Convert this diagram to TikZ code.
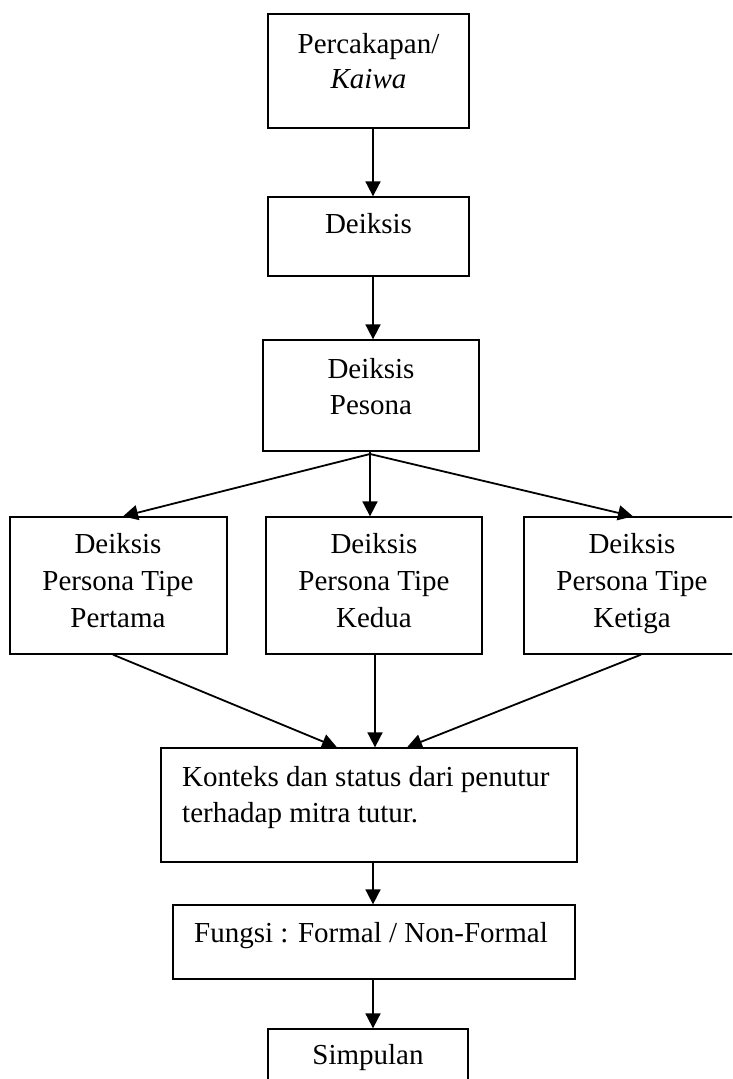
\documentclass[tikz,border=0pt]{standalone}
\usepackage{fontspec}
\setmainfont{Liberation Serif}
\usetikzlibrary{arrows.meta}
\begin{document}
\begin{tikzpicture}[x=1pt,y=-1pt,
  box/.style={draw,line width=1.3pt,inner sep=0pt,rectangle},
  txt/.style={anchor=base,inner sep=0pt,font=\fontsize{29}{36}\selectfont},
  arr/.style={line width=1.8pt,-{Triangle[length=15pt,width=15pt]}},
  ln/.style={line width=1.8pt}]
\useasboundingbox (0,0) rectangle (732,1079);
\fill[white] (0,0) rectangle (732,1079);
\clip (0,0) rectangle (732,1079);
% boxes
\node[box,minimum width=201pt,minimum height=114pt] (b1) at (368.5,71) {};
\node[box,minimum width=201pt,minimum height=79pt] (b2) at (368.5,236.5) {};
\node[box,minimum width=216pt,minimum height=111pt] (b3) at (371,395.5) {};
\node[box,minimum width=217pt,minimum height=137pt] (bl) at (118.5,585.5) {};
\node[box,minimum width=216pt,minimum height=137pt] (bm) at (374,585.5) {};
\node[box,minimum width=217pt,minimum height=137pt] (br) at (632.5,585.5) {};
\node[box,minimum width=416pt,minimum height=114pt] (bk) at (369,805) {};
\node[box,minimum width=402pt,minimum height=74pt] (bf) at (374,942) {};
\node[box,minimum width=200pt,minimum height=72pt] (bs) at (368,1065) {};
% texts
\node[txt] (t1a) at (368.5,53) {Percakapan/};
\node[txt] (t1b) at (368.5,88) {\itshape Kaiwa};
\node[txt] (t2) at (368.5,233) {Deiksis};
\node[txt] (t3a) at (371,378) {Deiksis};
\node[txt] (t3b) at (371,414) {Pesona};
\node[txt] (tla) at (118,553) {Deiksis};
\node[txt] (tlb) at (118,590) {Persona Tipe};
\node[txt] (tlc) at (118,627) {Pertama};
\node[txt] (tma) at (374,553) {Deiksis};
\node[txt] (tmb) at (374,590) {Persona Tipe};
\node[txt] (tmc) at (374,627) {Kedua};
\node[txt] (tra) at (632,553) {Deiksis};
\node[txt] (trb) at (632,590) {Persona Tipe};
\node[txt] (trc) at (632,627) {Ketiga};
\node[txt,anchor=base west] (tka) at (182,786) {Konteks dan status dari penutur};
\node[txt,anchor=base west] (tkb) at (182,822) {terhadap mitra tutur.};
\node[txt] (tf) at (371,942) {Fungsi : Formal / Non-Formal};
\node[txt] (ts) at (368,1064) {Simpulan};
% connector coordinates
\coordinate (cx) at (373,0);
\coordinate (split) at (370,454);
\coordinate (lin) at (123,0);
\coordinate (rin) at (633,0);
\coordinate (lout) at (113,0);
\coordinate (rout) at (641,0);
\coordinate (kl) at (337,0);
\coordinate (km) at (375,0);
\coordinate (kr) at (407,0);
% connectors
\draw[arr] (b1.south -| cx) -- (b2.north -| cx);
\draw[arr] (b2.south -| cx) -- (b3.north -| cx);
\draw[ln] (b3.south -| split) -- (split);
\draw[arr] (split) -- (bl.north -| lin);
\draw[arr] (split) -- (bm.north -| split);
\draw[arr] (split) -- (br.north -| rin);
\draw[arr] (bl.south -| lout) -- (bk.north -| kl);
\draw[arr] (bm.south -| km) -- (bk.north -| km);
\draw[arr] (br.south -| rout) -- (bk.north -| kr);
\draw[arr] (bk.south -| cx) -- (bf.north -| cx);
\draw[arr] (bf.south -| cx) -- (bs.north -| cx);
\end{tikzpicture}
\end{document}
